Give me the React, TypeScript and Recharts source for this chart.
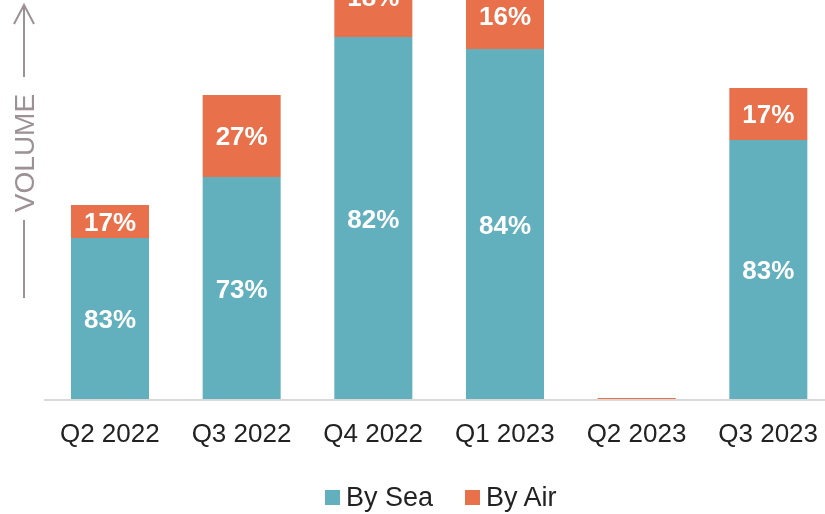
import React from 'react';
import { Bar, BarChart, LabelList, Legend, XAxis, YAxis } from 'recharts';

const quarters = ['Q2 2022', 'Q3 2022', 'Q4 2022', 'Q1 2023', 'Q2 2023', 'Q3 2023'];
const bySea = [162, 223, 363, 351, 0, 260];
const byAir = [33, 82, 80, 67, 2, 52];

const SEA = '#62AFBD';
const AIR = '#E8704A';
const FONT = '"Liberation Sans", Arial, sans-serif';

const pct = (v: number, total: number) => (total < 20 ? '' : `${Math.round((v / total) * 100)}%`);

const data = quarters.map((q, i) => {
  const total = bySea[i] + byAir[i];
  return {
    name: q,
    sea: bySea[i],
    air: byAir[i],
    seaPct: pct(bySea[i], total),
    airPct: pct(byAir[i], total),
  };
});

// axis title drawn in chart coordinates (chart is shifted up by 60px)
function VolumeLabel() {
  const c = '#9C9195';
  return (
    <g>
      <line x1={24} y1={65} x2={24} y2={137} stroke={c} strokeWidth={2} />
      <polyline points="14,84 24,65 34,84" fill="none" stroke={c} strokeWidth={2} />
      <text
        x={24}
        y={213}
        transform="rotate(-90 24 213)"
        textAnchor="middle"
        dominantBaseline="central"
        fill={c}
        fontSize={28}
        fontFamily={FONT}
      >
        VOLUME
      </text>
      <line x1={24} y1={280} x2={24} y2={358} stroke={c} strokeWidth={2} />
    </g>
  );
}

function LegendContent() {
  const items = [
    { label: 'By Sea', color: SEA },
    { label: 'By Air', color: AIR },
  ];
  return (
    <div
      style={{
        display: 'flex',
        alignItems: 'center',
        paddingTop: 24,
        marginLeft: 325,
        fontFamily: FONT,
        fontSize: 27,
        lineHeight: '26px',
        color: '#222',
      }}
    >
      {items.map((it) => (
        <div key={it.label} style={{ display: 'flex', alignItems: 'center', marginRight: 32 }}>
          <span style={{ width: 15, height: 15, background: it.color, marginRight: 6 }} />
          <span>{it.label}</span>
        </div>
      ))}
    </div>
  );
}

export default function App() {
  return (
    <div style={{ position: 'fixed', left: 0, top: -60 }}>
      <BarChart width={834} height={574} data={data} margin={{ top: 0, right: 0, bottom: 0, left: 0 }} barSize={78}>
        <XAxis
          dataKey="name"
          height={60}
          tickLine={false}
          axisLine={{ stroke: '#D9D9D9', strokeWidth: 2 }}
          tickMargin={18}
          interval={0}
          tick={{ fill: '#222', fontSize: 26, fontFamily: FONT }}
        />
        <YAxis
          width={44}
          domain={[0, 460]}
          axisLine={false}
          tickLine={false}
          tick={false}
          label={<VolumeLabel />}
        />
        <Legend verticalAlign="bottom" height={54} content={<LegendContent />} />
        <Bar dataKey="sea" stackId="a" fill={SEA} isAnimationActive={false}>
          <LabelList
            dataKey="seaPct"
            position="center"
            fill="#fff"
            fontSize={26}
            fontWeight="bold"
            fontFamily={FONT}
          />
        </Bar>
        <Bar dataKey="air" stackId="a" fill={AIR} isAnimationActive={false}>
          <LabelList
            dataKey="airPct"
            position="center"
            fill="#fff"
            fontSize={26}
            fontWeight="bold"
            fontFamily={FONT}
          />
        </Bar>
      </BarChart>
    </div>
  );
}
